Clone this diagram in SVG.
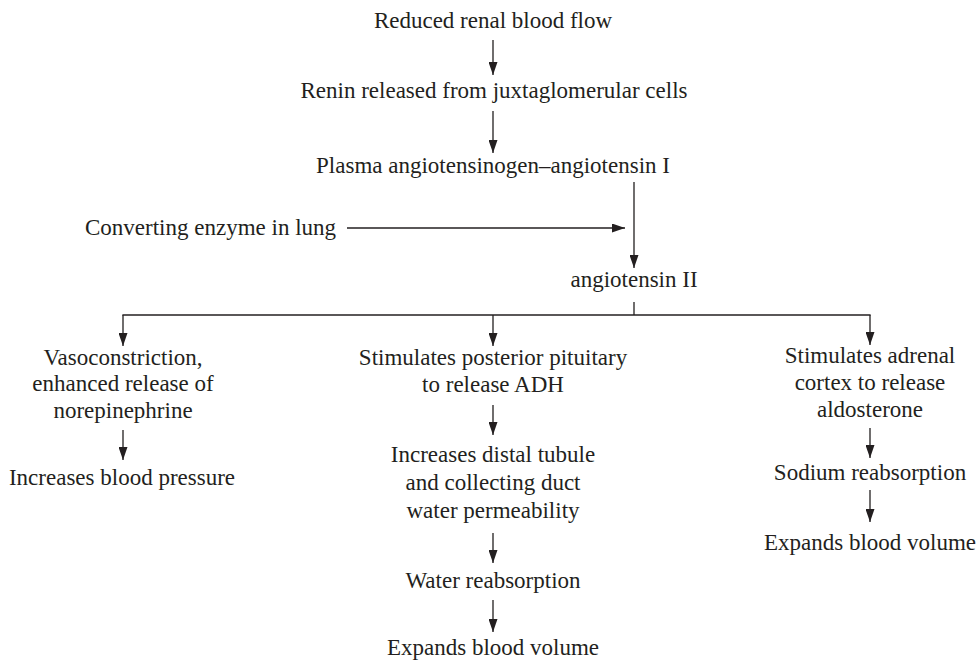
<svg xmlns="http://www.w3.org/2000/svg" width="977" height="660" viewBox="0 0 977 660">
<style>
text{font-family:"Liberation Serif","Times New Roman",serif;font-size:23px;fill:#231f20;text-anchor:middle}
.c line{stroke:#231f20;stroke-width:1.3;fill:none}
.a{marker-end:url(#ah)}
</style>
<defs>
<marker id="ah" markerUnits="userSpaceOnUse" viewBox="0 0 13 9" markerWidth="13" markerHeight="9" refX="13" refY="4.5" orient="auto">
<path d="M0,0 L13,4.5 L0,9 z" fill="#231f20"/>
</marker>
</defs>
<rect width="977" height="660" fill="#fff"/>
<g id="n1"><text x="493" y="28">Reduced renal blood flow</text></g>
<g id="n2"><text x="494" y="98">Renin released from juxtaglomerular cells</text></g>
<g id="n3"><text x="493" y="173">Plasma angiotensinogen–angiotensin I</text></g>
<g id="n4"><text x="85" y="235" style="text-anchor:start">Converting enzyme in lung</text></g>
<g id="n5"><text x="634" y="287">angiotensin II</text></g>
<g id="n6"><text x="123" y="365">Vasoconstriction,</text><text x="123" y="391">enhanced release of</text><text x="123" y="418">norepinephrine</text></g>
<g id="n7"><text x="122" y="485">Increases blood pressure</text></g>
<g id="n8"><text x="493" y="365">Stimulates posterior pituitary</text><text x="493" y="392">to release ADH</text></g>
<g id="n9"><text x="493" y="462">Increases distal tubule</text><text x="493" y="490">and collecting duct</text><text x="493" y="518">water permeability</text></g>
<g id="n10"><text x="493" y="588">Water reabsorption</text></g>
<g id="n11"><text x="493" y="655">Expands blood volume</text></g>
<g id="n12"><text x="870" y="363">Stimulates adrenal</text><text x="870" y="390">cortex to release</text><text x="870" y="417">aldosterone</text></g>
<g id="n13"><text x="870" y="480">Sodium reabsorption</text></g>
<g id="n14"><text x="870" y="550">Expands blood volume</text></g>
<g id="connectors" class="c">
<line class="a" x1="493" y1="40" x2="493" y2="75"/>
<line class="a" x1="493" y1="111" x2="493" y2="153"/>
<line class="a" x1="634" y1="182" x2="634" y2="268"/>
<line class="a" x1="347" y1="228" x2="625" y2="228"/>
<line x1="634" y1="302" x2="634" y2="315"/>
<line x1="122.4" y1="315" x2="870.6" y2="315"/>
<line class="a" x1="123" y1="315" x2="123" y2="346"/>
<line class="a" x1="493" y1="315" x2="493" y2="346"/>
<line class="a" x1="870" y1="315" x2="870" y2="345"/>
<line class="a" x1="123" y1="430" x2="123" y2="460"/>
<line class="a" x1="493" y1="405" x2="493" y2="435"/>
<line class="a" x1="493" y1="533" x2="493" y2="563"/>
<line class="a" x1="493" y1="600" x2="493" y2="632"/>
<line class="a" x1="870" y1="428" x2="870" y2="458"/>
<line class="a" x1="870" y1="490" x2="870" y2="522"/>
</g>
</svg>
